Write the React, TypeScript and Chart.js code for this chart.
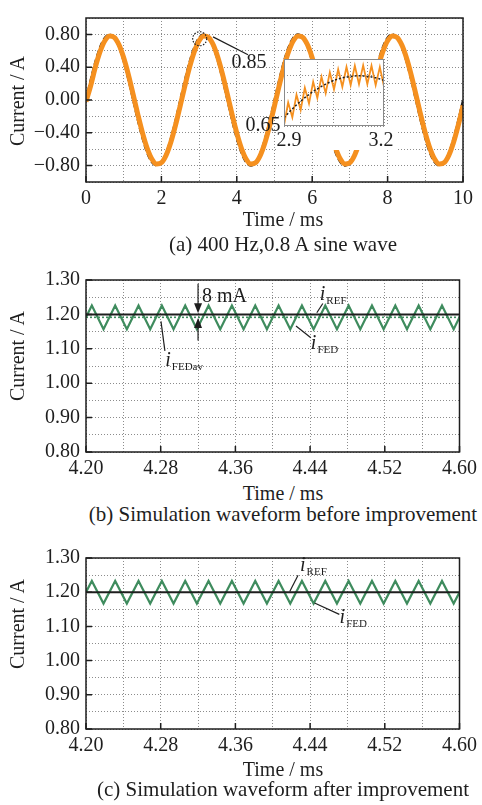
import React, { useEffect, useRef } from 'react';
import { Chart, registerables } from 'chart.js';
Chart.register(...registerables);

const FONT = '"Liberation Serif", "Times New Roman", serif';
const INK = '#1e1e1e';
const ORANGE = '#f5901f';
const GREEN = '#3f8c5e';
const GRID = '#8c8c8c';

// ---------- (a) 400 Hz, 0.8 A sine wave ----------
const timeA = [0, 0.125, 0.25, 0.375, 0.5, 0.625, 0.75, 0.875, 1, 1.125, 1.25, 1.375, 1.5, 1.625, 1.75, 1.875,
  2, 2.125, 2.25, 2.375, 2.5, 2.625, 2.75, 2.875, 3, 3.125, 3.25, 3.375, 3.5, 3.625, 3.75, 3.875,
  4, 4.125, 4.25, 4.375, 4.5, 4.625, 4.75, 4.875, 5, 5.125, 5.25, 5.375, 5.5, 5.625, 5.75, 5.875,
  6, 6.125, 6.25, 6.375, 6.5, 6.625, 6.75, 6.875, 7, 7.125, 7.25, 7.375, 7.5, 7.625, 7.75, 7.875,
  8, 8.125, 8.25, 8.375, 8.5, 8.625, 8.75, 8.875, 9, 9.125, 9.25, 9.375, 9.5, 9.625, 9.75, 9.875, 10];
const refA = [0, 0.247, 0.47, 0.647, 0.761, 0.8, 0.761, 0.647, 0.47, 0.247, 0, -0.247, -0.47, -0.647, -0.761, -0.8, -0.761, -0.647, -0.47, -0.247,
  0, 0.247, 0.47, 0.647, 0.761, 0.8, 0.761, 0.647, 0.47, 0.247, 0, -0.247, -0.47, -0.647, -0.761, -0.8, -0.761, -0.647, -0.47, -0.247,
  0, 0.247, 0.47, 0.647, 0.761, 0.8, 0.761, 0.647, 0.47, 0.247, 0, -0.247, -0.47, -0.647, -0.761, -0.8, -0.761, -0.647, -0.47, -0.247,
  0, 0.247, 0.47, 0.647, 0.761, 0.8, 0.761, 0.647, 0.47, 0.247, 0, -0.247, -0.47, -0.647, -0.761, -0.8, -0.761, -0.647, -0.47, -0.247, 0];
const measA = [-0.02, 0.177, 0.404, 0.592, 0.723, 0.782, 0.765, 0.673, 0.515, 0.307, 0.068, -0.177, -0.404, -0.592, -0.723, -0.782, -0.765, -0.673, -0.515, -0.307,
  -0.068, 0.177, 0.404, 0.592, 0.723, 0.782, 0.765, 0.673, 0.515, 0.307, 0.068, -0.177, -0.404, -0.592, -0.723, -0.782, -0.765, -0.673, -0.515, -0.307,
  -0.068, 0.177, 0.404, 0.592, 0.723, 0.782, 0.765, 0.673, 0.515, 0.307, 0.068, -0.177, -0.404, -0.592, -0.723, -0.782, -0.765, -0.673, -0.515, -0.307,
  -0.068, 0.177, 0.404, 0.592, 0.723, 0.782, 0.765, 0.673, 0.515, 0.307, 0.068, -0.177, -0.404, -0.592, -0.723, -0.782, -0.765, -0.673, -0.515, -0.307, -0.068];
const xLabelsA = [0, 2, 4, 6, 8, 10];
const yLabelsA = [0.8, 0.4, 0, -0.4, -0.8];

// inset of (a): 2.9 – 3.2 ms
const insetMeasT = [2.9, 2.9125, 2.925, 2.9375, 2.95, 2.9625, 2.975, 2.9875, 3.0, 3.0125, 3.025, 3.0375, 3.05,
  3.0625, 3.075, 3.0875, 3.1, 3.1125, 3.125, 3.1375, 3.15, 3.1625, 3.175, 3.1875, 3.2];
const insetMeas = [0.652, 0.72, 0.676, 0.743, 0.698, 0.764, 0.717, 0.782, 0.734, 0.797, 0.748, 0.81, 0.759,
  0.819, 0.767, 0.826, 0.772, 0.83, 0.775, 0.831, 0.775, 0.83, 0.772, 0.826, 0.768];
const insetRefT = [2.9, 2.925, 2.95, 2.975, 3.0, 3.025, 3.05, 3.075, 3.1, 3.125, 3.15, 3.175, 3.2];
const insetRef = [0.675, 0.701, 0.724, 0.744, 0.761, 0.775, 0.786, 0.794, 0.798, 0.8, 0.798, 0.794, 0.786];

// ---------- (b) and (c) ----------
const timeBC = [4.2, 4.20625, 4.21875, 4.23125, 4.24375, 4.25625, 4.26875, 4.28125, 4.29375, 4.30625, 4.31875,
  4.33125, 4.34375, 4.35625, 4.36875, 4.38125, 4.39375, 4.40625, 4.41875, 4.43125, 4.44375, 4.45625, 4.46875,
  4.48125, 4.49375, 4.50625, 4.51875, 4.53125, 4.54375, 4.55625, 4.56875, 4.58125, 4.59375, 4.6];
const fedB = [1.1915, 1.226, 1.157, 1.226, 1.157, 1.226, 1.157, 1.226, 1.157, 1.226, 1.157, 1.226, 1.157, 1.226, 1.157,
  1.226, 1.157, 1.226, 1.157, 1.226, 1.157, 1.226, 1.157, 1.226, 1.157, 1.226, 1.157, 1.226, 1.157, 1.226, 1.157,
  1.226, 1.157, 1.1915];
const fedC = [1.2, 1.233, 1.167, 1.233, 1.167, 1.233, 1.167, 1.233, 1.167, 1.233, 1.167, 1.233, 1.167, 1.233, 1.167,
  1.233, 1.167, 1.233, 1.167, 1.233, 1.167, 1.233, 1.167, 1.233, 1.167, 1.233, 1.167, 1.233, 1.167, 1.233, 1.167,
  1.233, 1.167, 1.2];
const refT = [4.2, 4.6];
const refBC = [1.2, 1.2];
const fedAvgB = [1.1915, 1.1915];
const xLabelsBC = [4.2, 4.28, 4.36, 4.44, 4.52, 4.6];
const yLabelsBC = [1.3, 1.2, 1.1, 1.0, 0.9, 0.8];

type Pt = { x: number; y: number };
const zip = (xs: number[], ys: number[]): Pt[] => xs.map((x, i) => ({ x, y: ys[i] }));

function scale(axis: 'x' | 'y', min: number, max: number, step: number, labels: number[], fmt: (v: number) => string) {
  return {
    type: 'linear',
    min,
    max,
    afterFit: (s: any) => {
      if (axis === 'x') s.height = 30;
      else s.width = 86;
    },
    ticks: {
      stepSize: step,
      autoSkip: false,
      maxRotation: 0,
      padding: axis === 'x' ? 5 : 6,
      color: INK,
      font: { family: FONT, size: 20 },
      callback: (v: number) => {
        const hit = labels.find((l) => Math.abs(l - v) < 1e-6);
        return hit === undefined ? '' : fmt(hit);
      },
    },
    grid: { color: GRID, lineWidth: 1, drawTicks: false },
    border: { display: false, dash: [1, 2] },
  };
}

const fmtSigned = (v: number) => (v < -1e-9 ? '\u2212' : '') + Math.abs(v).toFixed(2);

function framePlugin(xLabels: number[], yLabels: number[]) {
  return {
    id: 'frame',
    afterDatasetsDraw(chart: any) {
      const { ctx, chartArea: a, scales } = chart;
      ctx.save();
      ctx.strokeStyle = INK;
      ctx.lineWidth = 1.5;
      ctx.setLineDash([]);
      ctx.strokeRect(a.left, a.top, a.right - a.left, a.bottom - a.top);
      ctx.beginPath();
      for (const v of xLabels) {
        const px = scales.x.getPixelForValue(v);
        ctx.moveTo(px, a.bottom);
        ctx.lineTo(px, a.bottom - 6);
      }
      for (const v of yLabels) {
        const py = scales.y.getPixelForValue(v);
        ctx.moveTo(a.left, py);
        ctx.lineTo(a.left + 6, py);
      }
      ctx.stroke();
      ctx.restore();
    },
  };
}

type Leader = [number, number, number, number];
type SubLabel = { x: number; y: number; main: string; sub: string };
type Arrow = { x: number; from: number; to: number };
type Note = {
  leaders?: Leader[];
  labels?: SubLabel[];
  arrows?: Arrow[];
  texts?: { x: number; y: number; text: string }[];
  circle?: { x: number; y: number; r: number };
};

function notePlugin(note: Note) {
  return {
    id: 'notes',
    afterDatasetsDraw(chart: any) {
      const { ctx, scales } = chart;
      const X = (v: number) => scales.x.getPixelForValue(v);
      const Y = (v: number) => scales.y.getPixelForValue(v);
      ctx.save();
      ctx.strokeStyle = INK;
      ctx.fillStyle = INK;
      ctx.lineWidth = 1.2;
      for (const [x0, y0, x1, y1] of note.leaders || []) {
        ctx.beginPath();
        ctx.moveTo(X(x0), Y(y0));
        ctx.lineTo(X(x1), Y(y1));
        ctx.stroke();
      }
      for (const ar of note.arrows || []) {
        const x = X(ar.x);
        const y0 = Y(ar.from);
        const y1 = Y(ar.to);
        const s = Math.sign(y1 - y0);
        ctx.beginPath();
        ctx.moveTo(x, y0);
        ctx.lineTo(x, y1 - s * 8);
        ctx.stroke();
        ctx.beginPath();
        ctx.moveTo(x, y1);
        ctx.lineTo(x - 4, y1 - s * 10);
        ctx.lineTo(x + 4, y1 - s * 10);
        ctx.closePath();
        ctx.fill();
      }
      if (note.circle) {
        ctx.setLineDash([1.5, 1.5]);
        ctx.beginPath();
        ctx.arc(X(note.circle.x), Y(note.circle.y), note.circle.r, 0, Math.PI * 2);
        ctx.stroke();
        ctx.setLineDash([]);
      }
      ctx.textBaseline = 'alphabetic';
      ctx.textAlign = 'left';
      for (const t of note.texts || []) {
        ctx.font = `20px ${FONT}`;
        ctx.fillText(t.text, X(t.x), Y(t.y));
      }
      for (const l of note.labels || []) {
        const x = X(l.x);
        const y = Y(l.y);
        ctx.font = `italic 20px ${FONT}`;
        ctx.fillText(l.main, x, y);
        const w = ctx.measureText(l.main).width;
        ctx.font = `11px ${FONT}`;
        ctx.fillText(l.sub, x + w + 1, y + 4);
      }
      ctx.restore();
    },
  };
}

function baseOptions(padTop: number, scales: any) {
  return {
    animation: false,
    responsive: false,
    events: [],
    layout: { padding: { top: padTop, right: 19, left: 0, bottom: 0 }, autoPadding: false },
    plugins: { legend: { display: false }, tooltip: { enabled: false }, title: { display: false } },
    scales,
  };
}

function configA(): any {
  return {
    type: 'line',
    data: {
      datasets: [
        { data: zip(timeA, measA), borderColor: ORANGE, borderWidth: 5, pointRadius: 0, cubicInterpolationMode: 'monotone', fill: false },
        { data: zip(timeA, refA), borderColor: INK, borderWidth: 2.2, borderDash: [6, 3], pointRadius: 0, cubicInterpolationMode: 'monotone', fill: false },
      ],
    },
    options: baseOptions(8, {
      x: scale('x', 0, 10, 1, xLabelsA, (v) => String(v)),
      y: scale('y', -1, 1, 0.2, yLabelsA, fmtSigned),
    }),
    plugins: [
      framePlugin(xLabelsA, yLabelsA),
      notePlugin({ circle: { x: 3.016, y: 0.747, r: 7 }, leaders: [[3.369, 0.77, 4.297, 0.552]] }),
    ],
  };
}

function configInset(): any {
  const sc = (min: number, max: number, axis: 'x' | 'y') => ({
    type: 'linear',
    min,
    max,
    afterFit: (s: any) => {
      if (axis === 'x') s.height = 0;
      else s.width = 0;
    },
    ticks: { stepSize: 0.05, display: false },
    grid: { color: GRID, lineWidth: 1, drawTicks: false },
    border: { display: false, dash: [1, 2] },
  });
  return {
    type: 'line',
    data: {
      datasets: [
        { data: zip(insetRefT, insetRef), borderColor: INK, borderWidth: 1.5, borderDash: [2, 2], pointRadius: 0, cubicInterpolationMode: 'monotone', fill: false },
        { data: zip(insetMeasT, insetMeas), borderColor: ORANGE, borderWidth: 1.8, pointRadius: 0, tension: 0, fill: false },
      ],
    },
    options: {
      animation: false,
      responsive: false,
      events: [],
      layout: { padding: { left: 44, top: 14, right: 16, bottom: 29 }, autoPadding: false },
      plugins: { legend: { display: false }, tooltip: { enabled: false } },
      scales: { x: sc(2.9, 3.2, 'x'), y: sc(0.65, 0.85, 'y') },
    },
    plugins: [
      {
        id: 'insetBg',
        beforeDraw(chart: any) {
          const { ctx, chartArea: a } = chart;
          ctx.save();
          ctx.fillStyle = '#ffffff';
          ctx.fillRect(a.left, a.top, a.right - a.left, a.bottom - a.top);
          ctx.fillRect(a.left - 8, a.bottom, a.right - a.left + 22, 24);
          ctx.restore();
        },
        afterDatasetsDraw(chart: any) {
          const { ctx, chartArea: a } = chart;
          ctx.save();
          ctx.strokeStyle = '#8a8a8a';
          ctx.lineWidth = 1;
          ctx.strokeRect(a.left + 0.5, a.top + 0.5, a.right - a.left - 1, a.bottom - a.top - 1);
          ctx.restore();
        },
      },
    ],
  };
}

function configBC(fed: number[], withAvg: boolean, note: Note): any {
  const datasets: any[] = [
    { data: zip(refT, refBC), borderColor: INK, borderWidth: 2, pointRadius: 0, tension: 0, fill: false },
  ];
  if (withAvg) {
    datasets.push({ data: zip(refT, fedAvgB), borderColor: GREEN, borderWidth: 1.6, borderDash: [2, 2], pointRadius: 0, tension: 0, fill: false });
  }
  datasets.push({ data: zip(timeBC, fed), borderColor: GREEN, borderWidth: 2.2, pointRadius: 0, tension: 0, fill: false });
  return {
    type: 'line',
    data: { datasets },
    options: baseOptions(14, {
      x: scale('x', 4.2, 4.6, 0.04, xLabelsBC, (v) => v.toFixed(2)),
      y: scale('y', 0.8, 1.3, 0.05, yLabelsBC, (v) => v.toFixed(2)),
    }),
    plugins: [framePlugin(xLabelsBC, yLabelsBC), notePlugin(note)],
  };
}

const noteB: Note = {
  arrows: [
    { x: 4.32, from: 1.289, to: 1.203 },
    { x: 4.32, from: 1.124, to: 1.1895 },
  ],
  texts: [{ x: 4.3241, y: 1.2347, text: '8 mA' }],
  leaders: [
    [4.4472, 1.2048, 4.4536, 1.2318],
    [4.4249, 1.1665, 4.4408, 1.1324],
    [4.2803, 1.1798, 4.2845, 1.094],
  ],
  labels: [
    { x: 4.4504, y: 1.2432, main: 'i', sub: 'REF' },
    { x: 4.4408, y: 1.0983, main: 'i', sub: 'FED' },
    { x: 4.2849, y: 1.05, main: 'i', sub: 'FEDav' },
  ],
};

const noteC: Note = {
  leaders: [
    [4.4182, 1.202, 4.4271, 1.2494],
    [4.4448, 1.1686, 4.4713, 1.1351],
  ],
  labels: [
    { x: 4.4292, y: 1.2629, main: 'i', sub: 'REF' },
    { x: 4.4716, y: 1.1114, main: 'i', sub: 'FED' },
  ],
};

function ChartCanvas({ left, top, width, height, make }: { left: number; top: number; width: number; height: number; make: () => any }) {
  const ref = useRef<HTMLCanvasElement | null>(null);
  useEffect(() => {
    if (!ref.current) return;
    const chart = new Chart(ref.current, make());
    return () => chart.destroy();
  }, []);
  return (
    <canvas
      ref={ref}
      width={width}
      height={height}
      style={{ position: 'absolute', left, top, width, height, display: 'block' }}
    />
  );
}

function Txt({ x, y, text, size = 20, rotate = false }: { x: number; y: number; text: string; size?: number; rotate?: boolean }) {
  return (
    <div
      style={{
        position: 'absolute',
        left: x,
        top: y,
        transform: `translate(-50%, -50%)${rotate ? ' rotate(-90deg)' : ''}`,
        fontFamily: FONT,
        fontSize: size,
        lineHeight: 1,
        color: INK,
        whiteSpace: 'nowrap',
      }}
    >
      {text}
    </div>
  );
}

export default function App() {
  return (
    <div style={{ position: 'fixed', left: 0, top: 0, width: 482, height: 805, background: '#ffffff', overflow: 'hidden' }}>
      <ChartCanvas left={0} top={0} width={482} height={212} make={configA} />
      <ChartCanvas left={240} top={45} width={160} height={110} make={configInset} />
      <Txt x={249} y={61} text="0.85" />
      <Txt x={263} y={124} text="0.65" />
      <Txt x={289} y={139} text="2.9" />
      <Txt x={381} y={139} text="3.2" />
      <Txt x={17} y={101} text="Current / A" rotate />
      <Txt x={283} y={219} text="Time / ms" />
      <Txt x={283} y={244} text="(a) 400 Hz,0.8 A sine wave" size={21} />

      <ChartCanvas left={0} top={262} width={482} height={220} make={() => configBC(fedB, true, noteB)} />
      <Txt x={17} y={356} text="Current / A" rotate />
      <Txt x={283} y={493} text="Time / ms" />
      <Txt x={283} y={514} text="(b) Simulation waveform before improvement" size={21} />

      <ChartCanvas left={0} top={540} width={482} height={219} make={() => configBC(fedC, false, noteC)} />
      <Txt x={17} y={624} text="Current / A" rotate />
      <Txt x={283} y={769} text="Time / ms" />
      <Txt x={283} y={789} text="(c) Simulation waveform after improvement" size={21} />
    </div>
  );
}
